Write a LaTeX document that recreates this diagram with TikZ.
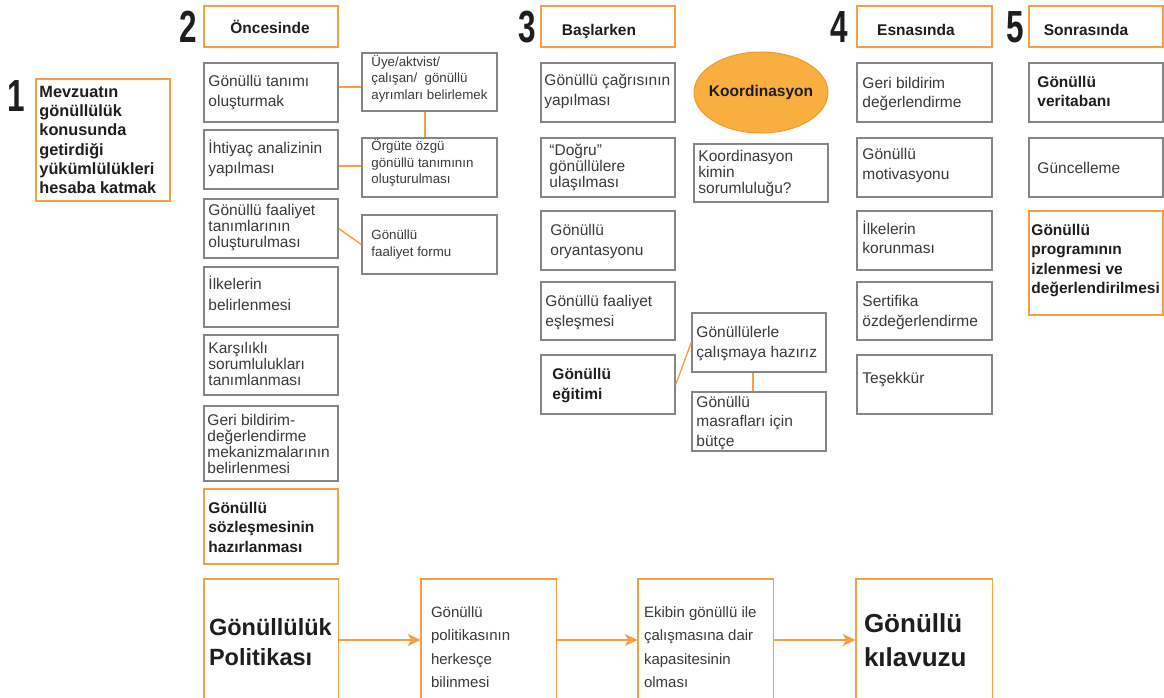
\documentclass[tikz,border=0pt]{standalone}
\usepackage{fontspec}
\setmainfont{Liberation Sans}
\usetikzlibrary{arrows.meta,shapes.geometric}
\definecolor{og}{HTML}{F7A043}
\definecolor{gr}{HTML}{858585}
\definecolor{tx}{HTML}{3A3A3A}
\definecolor{bk}{HTML}{1E1E1E}
\definecolor{ellf}{HTML}{F9AE40}
\definecolor{elld}{HTML}{F29A2E}
\tikzset{
  gbox/.style={draw=gr, line width=1.5pt, inner sep=0pt},
  obox/.style={draw=og, line width=1.5pt, inner sep=0pt},
  nbox/.style={draw=none, inner sep=0pt},
  txt/.style={align=left, inner sep=0pt, anchor=west, text=tx},
  fa/.style={txt, font=\fontsize{15.5}{19.5}\selectfont},
  fl/.style={txt, font=\fontsize{15.5}{21}\selectfont},
  fb/.style={txt, font=\fontsize{15.5}{16}\selectfont},
  fs/.style={txt, font=\fontsize{13.3}{16.5}\selectfont},
  fba/.style={txt, font=\fontsize{15.5}{19.5}\selectfont\bfseries, text=bk},
  fbm/.style={txt, font=\fontsize{16.3}{19.3}\selectfont\bfseries, text=bk},
  fbig/.style={txt, font=\fontsize{23.5}{30}\selectfont\bfseries, text=bk},
  fhuge/.style={txt, font=\fontsize{26}{34}\selectfont\bfseries, text=bk},
  fmid/.style={txt, font=\fontsize{15}{23.5}\selectfont},
  htext/.style={font=\fontsize{15.5}{18}\selectfont\bfseries, text=bk, inner sep=0pt},
  bignum/.style={font=\fontsize{45}{45}\selectfont\bfseries, text=bk, inner sep=0pt},
  oline/.style={draw=og, line width=1.4pt},
  oarrow/.style={draw=og, line width=2pt, -{Stealth[length=13pt,width=12pt,inset=3.5pt]}},
}
% name, x1, y1, x2, y2, box style, text offset (dx,dy), text style, text
\newcommand\mybx[9]{%
  \pgfmathsetmacro\mybw{#4-#2}%
  \pgfmathsetmacro\mybh{#5-#3}%
  \node[#6, minimum width=\mybw pt, minimum height=\mybh pt] (#1) at ({(#2+#4)/2},{(#3+#5)/2}) {};
  \node[#8] (#1t) at ([shift={(#7)}]#1.west) {#9};}
\begin{document}
\begin{tikzpicture}[x=1pt,y=-1pt]
\useasboundingbox[fill=white] (0,0) rectangle (1164,697);

% big numbers
\node[bignum] (n1) at (16,96) {\scalebox{0.7}[1]{1}};
\node[bignum] (n2) at (188.5,27) {\scalebox{0.7}[1]{2}};
\node[bignum] (n3) at (527.5,27) {\scalebox{0.7}[1]{3}};
\node[bignum] (n4) at (839,27) {\scalebox{0.7}[1]{4}};
\node[bignum] (n5) at (1015,27) {\scalebox{0.7}[1]{5}};

% column 1
\mybx{mevz}{36}{79}{170}{201}{obox}{4,0}{fbm}{Mevzuatın\\gönüllülük\\konusunda\\getirdiği\\yükümlülükleri\\hesaba katmak}

% headers
\mybx{h2}{204}{6}{338}{47}{obox}{5,0}{fa}{}
\mybx{h3}{541}{6}{675}{47}{obox}{5,0}{fa}{}
\mybx{h4}{857}{6}{992}{47}{obox}{5,0}{fa}{}
\mybx{h5}{1029}{6}{1163}{47}{obox}{5,0}{fa}{}
\node[htext] (t2) at (270,27) {Öncesinde};
\node[htext] (t3) at (599,31) {Başlarken};
\node[htext] (t4) at (916,30) {Esnasında};
\node[htext] (t5) at (1086,30) {Sonrasında};

% column 2
\mybx{b21}{204}{63}{338}{122}{gbox}{5,0}{fa}{Gönüllü tanımı\\oluşturmak}
\mybx{b22}{204}{130}{338}{189}{gbox}{5,-1}{fa}{İhtiyaç analizinin\\yapılması}
\mybx{b23}{204}{199}{338}{258}{gbox}{5,-1}{fb}{Gönüllü faaliyet\\tanımlarının\\oluşturulması}
\mybx{b24}{204}{267}{338}{327}{gbox}{5,-3.5}{fl}{İlkelerin\\belirlenmesi}
\mybx{b25}{204}{335}{338}{395}{gbox}{5,-1}{fb}{Karşılıklı\\sorumlulukları\\tanımlanması}
\mybx{b26}{204}{406}{338}{481}{gbox}{4,0.5}{fb}{Geri bildirim-\\değerlendirme\\mekanizmalarının\\belirlenmesi}
\mybx{b27}{204}{489}{338}{564}{obox}{5,0.5}{fba}{Gönüllü\\sözleşmesinin\\hazırlanması}

% side boxes of column 2
\mybx{s1}{362}{53}{497}{111}{gbox}{10,-3.5}{fs}{Üye/aktvist/\\çalışan/~~gönüllü\\ayrımları belirlemek}
\mybx{s2}{362}{138}{497}{197}{gbox}{10,-4.5}{fs}{Örgüte özgü\\gönüllü tanımının\\oluşturulması}
\mybx{s3}{362}{215}{497}{274}{gbox}{10,0}{fs}{Gönüllü\\faaliyet formu}

\draw[oline] (b21.east |- 0,87) -- (s1.west |- 0,87);
\draw[oline] (b22.east |- 0,166) -- (s2.west |- 0,166);
\draw[oline] ([xshift=-4.5pt]s1.south) -- ([xshift=-4.5pt]s2.north);
\draw[oline] (b23.east) -- (s3.west);

% column 3
\mybx{c31}{541}{63}{675}{122}{gbox}{4,-1}{fa}{Gönüllü çağrısının\\yapılması}
\mybx{c32}{541}{138}{675}{197}{gbox}{9,0}{fb}{“Doğru”\\gönüllülere\\ulaşılması}
\mybx{c33}{541}{211}{675}{270}{gbox}{10,1}{fa}{Gönüllü\\oryantasyonu}
\mybx{c34}{541}{282}{675}{340}{gbox}{5,1.5}{fa}{Gönüllü faaliyet\\eşleşmesi}
\mybx{c35}{541}{355}{675}{414}{gbox}{12,1}{fba}{Gönüllü\\eğitimi}

\node[ellipse, fill=ellf, draw=elld, line width=1pt, inner sep=0pt, minimum width=134pt, minimum height=81pt, font=\fontsize{15.5}{18}\selectfont\bfseries, text=bk] (koord) at (761,92.5) {\makebox[0pt][c]{Koordinasyon}};
\mybx{k2}{694}{144}{828}{202}{gbox}{5,0.5}{fb}{Koordinasyon\\kimin\\sorumluluğu?}
\mybx{g1}{692}{313}{826}{372}{gbox}{5,1}{fa}{Gönüllülerle\\çalışmaya hazırız}
\mybx{g2}{692}{392}{826}{451}{gbox}{5,1.5}{fa}{Gönüllü\\masrafları için\\bütçe}

\draw[oline] (c35.east) -- (g1.west);
\draw[oline] ([xshift=-6pt]g1.south) -- ([xshift=-6pt]g2.north);

% column 4
\mybx{d1}{857}{63}{992}{122}{gbox}{6,1.5}{fa}{Geri bildirim\\değerlendirme}
\mybx{d2}{857}{138}{992}{197}{gbox}{6,-2}{fa}{Gönüllü\\motivasyonu}
\mybx{d3}{857}{211}{992}{270}{gbox}{6,-3}{fa}{İlkelerin\\korunması}
\mybx{d4}{857}{282}{992}{340}{gbox}{6,1.5}{fa}{Sertifika\\özdeğerlendirme}
\mybx{d5}{857}{355}{992}{414}{gbox}{6,-4.5}{fa}{Teşekkür}

% column 5
\mybx{e1}{1029}{63}{1163}{122}{gbox}{9,-1}{fba}{Gönüllü\\veritabanı}
\mybx{e2}{1029}{138}{1163}{197}{gbox}{9,0}{fa}{Güncelleme}
\mybx{e3}{1029}{211}{1163}{315}{obox}{3,-2.5}{fba}{Gönüllü\\programının\\izlenmesi ve\\değerlendirilmesi}

% bottom row
\mybx{p1}{204}{579}{338}{707}{nbox}{5,-1}{fbig}{Gönüllülük\\Politikası}
\mybx{p2}{421}{579}{556}{707}{nbox}{10,4}{fmid}{Gönüllü\\politikasının\\herkesçe\\bilinmesi}
\mybx{p3}{638}{579}{773}{707}{nbox}{6,4}{fmid}{Ekibin gönüllü ile\\çalışmasına dair\\kapasitesinin\\olması}
\mybx{p4}{856}{579}{992}{707}{nbox}{8,-3}{fhuge}{Gönüllü\\kılavuzu}
\foreach \p in {p1,p2,p3,p4}{
  \draw[oline] (\p.south west) -- (\p.north west) -- (\p.north east) -- (\p.south east);
}
\draw[oarrow] ([yshift=3pt]p1.east) -- ([yshift=3pt]p2.west);
\draw[oarrow] ([yshift=3pt]p2.east) -- ([yshift=3pt]p3.west);
\draw[oarrow] ([yshift=3pt]p3.east) -- ([yshift=3pt]p4.west);
\end{tikzpicture}
\end{document}
